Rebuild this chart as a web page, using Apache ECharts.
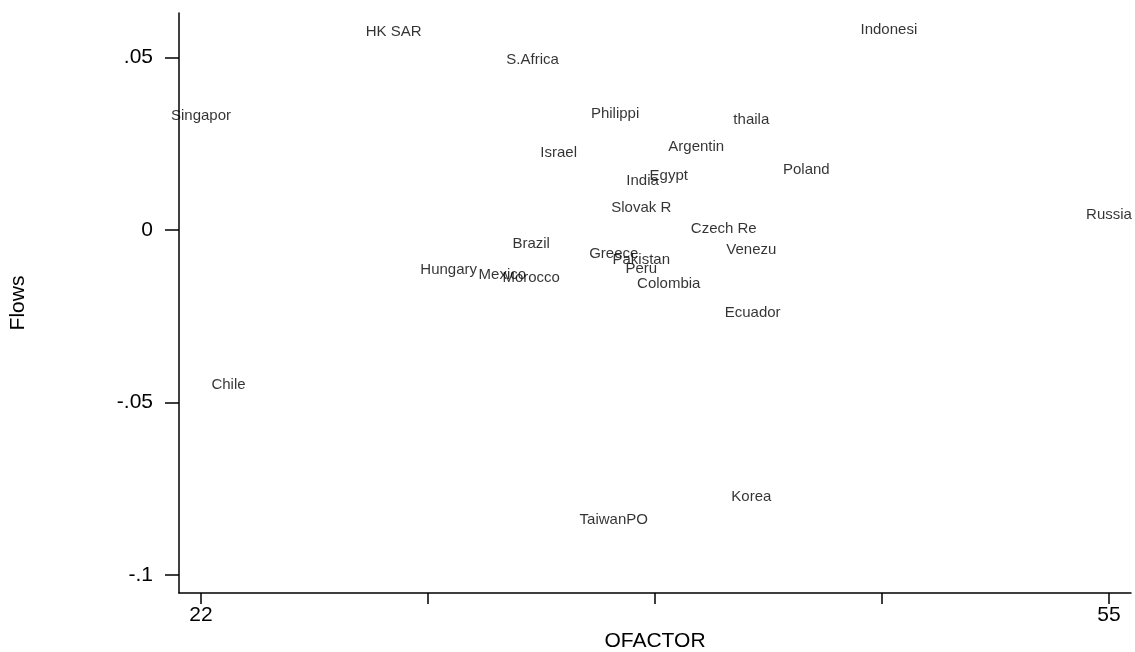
<!DOCTYPE html>
<html>
<head>
<meta charset="utf-8">
<title>Flows vs OFACTOR</title>
<script src="https://cdn.jsdelivr.net/npm/echarts@6/dist/echarts.min.js"></script>
<style>
  html, body { margin: 0; padding: 0; background: #fff; overflow: hidden; }
  #chart { width: 1135px; height: 652px; }
</style>
</head>
<body>
<div id="chart"></div>
<script>
// Country labels with their OFACTOR (x) and Flows (y) values
const countries = ['HK SAR', 'S.Africa', 'Indonesi', 'Singapor', 'Philippi', 'thaila', 'Argentin',
  'Israel', 'Poland', 'India', 'Egypt', 'Slovak R', 'Russia', 'Czech Re', 'Brazil', 'Venezu',
  'Greece', 'Pakistan', 'Peru', 'Hungary', 'Mexico', 'Morocco', 'Colombia', 'Ecuador',
  'Chile', 'Korea', 'TaiwanPO'];
const ofactor = [29.0, 34.05, 47.0, 22.0, 37.05, 42.0, 40.0,
  35.0, 44.0, 38.05, 39.0, 38.0, 55.0, 41.0, 34.0, 42.0,
  37.0, 38.0, 38.0, 31.0, 32.95, 34.0, 39.0, 42.05,
  23.0, 42.0, 37.0];
const flows = [0.058, 0.0499, 0.0586, 0.0336, 0.0342, 0.0325, 0.0246,
  0.0229, 0.018, 0.0148, 0.0162, 0.007, 0.005, 0.0009, -0.0035, -0.0052,
  -0.0064, -0.0081, -0.0107, -0.011, -0.0125, -0.0133, -0.0151, -0.0235,
  -0.0443, -0.0768, -0.0835];

// Axis ticks and labels
const xTickValues = [22, 30.25, 38.5, 46.75, 55];
const xLabelValues = [22, 55];
const yTickValues = [-0.1, -0.05, 0, 0.05];
const yTickLabels = ['-.1', '-.05', '0', '.05'];

const points = countries.map((name, i) => ({ name: name, value: [ofactor[i], flows[i]] }));

const font = 'Liberation Sans, Arial, Helvetica, sans-serif';
const chart = echarts.init(document.getElementById('chart'), null, { renderer: 'canvas' });

chart.setOption({
  animation: false,
  backgroundColor: '#ffffff',
  grid: { left: 179, right: 4, top: 13, bottom: 59, containLabel: false, outerBoundsMode: 'none' },
  xAxis: {
    type: 'value',
    min: 21.2,
    max: 55.8,
    name: 'OFACTOR',
    nameLocation: 'middle',
    nameGap: 34,
    nameTextStyle: { color: '#000', fontSize: 21, fontFamily: font },
    axisLine: { show: true, onZero: false, lineStyle: { color: '#000', width: 1.5 } },
    axisTick: { show: true, inside: false, length: 11, customValues: xTickValues,
      lineStyle: { color: '#000', width: 1.5 } },
    axisLabel: { show: true, customValues: xLabelValues, margin: 12,
      color: '#000', fontSize: 21, fontFamily: font },
    splitLine: { show: false }
  },
  yAxis: {
    type: 'value',
    min: -0.1052,
    max: 0.0629,
    name: 'Flows',
    nameLocation: 'middle',
    nameRotate: 90,
    nameGap: 150,
    nameTextStyle: { color: '#000', fontSize: 21, fontFamily: font },
    axisLine: { show: true, onZero: false, lineStyle: { color: '#000', width: 1.5 } },
    axisTick: { show: true, inside: false, length: 14, customValues: yTickValues,
      lineStyle: { color: '#000', width: 1.5 } },
    axisLabel: {
      show: true, customValues: yTickValues, margin: 26,
      color: '#000', fontSize: 21, fontFamily: font,
      formatter: function (v) {
        const idx = yTickValues.findIndex(t => Math.abs(t - v) < 1e-9);
        return idx >= 0 ? yTickLabels[idx] : '';
      }
    },
    splitLine: { show: false }
  },
  series: [{
    type: 'scatter',
    data: points,
    symbolSize: 1,
    itemStyle: { color: 'rgba(0,0,0,0)' },
    label: {
      show: true,
      position: 'inside',
      offset: [0, 2],
      formatter: '{b}',
      color: '#000',
      textBorderWidth: 0,
      textBorderColor: 'transparent',
      fontSize: 15,
      fontFamily: font
    },
    emphasis: { disabled: true }
  }]
});
</script>
</body>
</html>
